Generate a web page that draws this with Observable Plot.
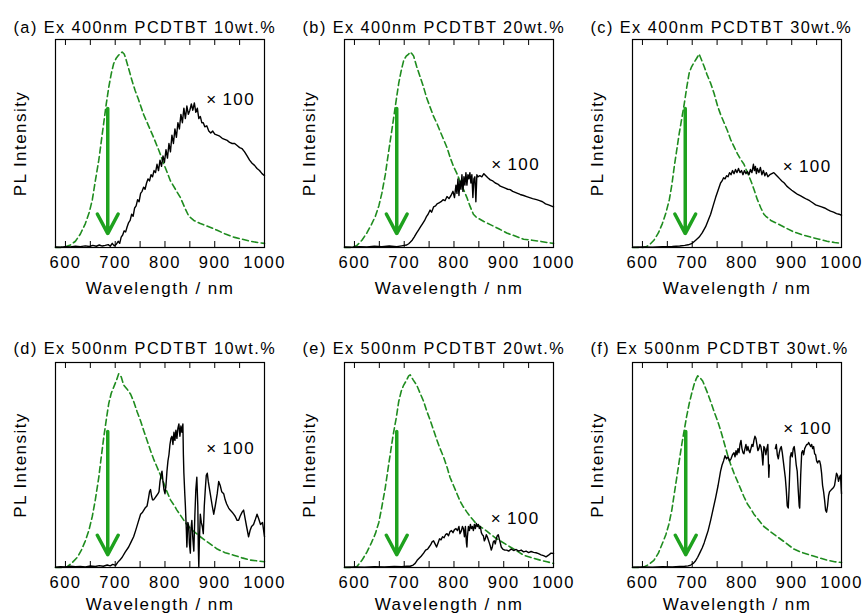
<!DOCTYPE html>
<html>
<head>
<meta charset="utf-8">
<script src="https://cdn.jsdelivr.net/npm/d3@7"></script>
<script src="https://cdn.jsdelivr.net/npm/@observablehq/plot@0.6"></script>
<style>
  html, body { margin: 0; padding: 0; background: #fff; }
  #wrap { position: relative; width: 867px; height: 616px; overflow: hidden; background: #fff; }
  .panel { position: absolute; }
  .panel svg { overflow: visible; }
  .panel svg text { letter-spacing: 1.45px; }
</style>
</head>
<body>
<div id="wrap"></div>
<script>
// ---------- DATA ----------
const panelTitles = [
  "(a) Ex 400nm PCDTBT 10wt.%",
  "(b) Ex 400nm PCDTBT 20wt.%",
  "(c) Ex 400nm PCDTBT 30wt.%",
  "(d) Ex 500nm PCDTBT 10wt.%",
  "(e) Ex 500nm PCDTBT 20wt.%",
  "(f) Ex 500nm PCDTBT 30wt.%"
];
const xDomain = [580, 1000];
const labelTicks = [600, 700, 800, 900, 1000];
const minorTicks = [600, 650, 700, 750, 800, 850, 900, 950];
const xLabel = "Wavelength / nm";
const yLabel = "PL Intensity";
const scaleText = "×\u2009100";
// "×100" annotation positions (wavelength, normalized intensity) for a..f
const scaleTextWl = [932, 924, 931, 932, 923, 932];
const scaleTextPL = [0.71, 0.40, 0.39, 0.58, 0.24, 0.68];
// green arrow (wavelength, top, tip)
const arrowWl = [685, 685, 686, 685, 685, 687];
const arrowTop = [0.668, 0.668, 0.668, 0.663, 0.663, 0.663];
const arrowTip = [0.067, 0.067, 0.067, 0.062, 0.062, 0.062];

// (a) green dashed reference spectrum
const wlGreenA = [580,590,600,610,620,630,640,648,654,660,667,672,677,682,687,692,697,702,707,714,718,721,727,734,740,747,757,767,777,788,798,811,821,831,840,848,858,871,888,905,920,938,955,972,986,1000];
const plGreenA = [0,0,0.004,0.012,0.03,0.065,0.115,0.17,0.23,0.32,0.42,0.51,0.6,0.69,0.77,0.835,0.885,0.91,0.925,0.94,0.93,0.91,0.86,0.8,0.755,0.71,0.64,0.585,0.53,0.465,0.4,0.32,0.28,0.24,0.19,0.15,0.13,0.115,0.1,0.083,0.066,0.05,0.04,0.03,0.024,0.02];
// (a) black x100 spectrum
const wlBlackA = [580,590,600,610,620,630,640,648,655,662,668,674,680,686,690,694,698,702,706,709,712,715,718,721,724,727,730,733,736,739,742,745,748,751,754,757,760,763,766,769,772,775,778,781,784,787,790,793,796,799,802,805,808,811,814,817,820,823,826,829,832,835,838,841,844,847,850,853,856,859,862,865,868,871,874,877,880,884,888,892,896,900,905,910,915,920,925,930,935,940,945,950,955,960,965,970,975,980,985,990,995,1000];
const plBlackA = [0.003,0.002,0.004,0.003,0.006,0.004,0.008,0.005,0.01,0.006,0.012,0.007,0.01,0.014,0.006,0.02,0.008,0.015,0.03,0.02,0.05,0.06,0.08,0.075,0.1,0.12,0.13,0.16,0.15,0.19,0.2,0.23,0.22,0.26,0.27,0.29,0.28,0.31,0.33,0.32,0.35,0.34,0.37,0.36,0.4,0.37,0.42,0.39,0.44,0.41,0.47,0.43,0.5,0.46,0.54,0.5,0.57,0.53,0.6,0.57,0.64,0.6,0.67,0.62,0.68,0.64,0.66,0.69,0.66,0.695,0.65,0.67,0.62,0.63,0.6,0.6,0.58,0.585,0.56,0.55,0.56,0.545,0.54,0.535,0.525,0.52,0.515,0.505,0.5,0.5,0.49,0.48,0.475,0.46,0.44,0.42,0.405,0.395,0.38,0.37,0.355,0.345];

// (b)
const wlGreenB = [580,595,605,615,625,634,642,649,655,662,668,673,678,684,689,694,699,704,709,712,716,719,725,732,739,745,752,759,766,772,779,786,792,799,806,812,819,826,832,839,845,849,860,873,890,906,923,940,957,973,987,1000];
const plGreenB = [0,0,0.01,0.035,0.07,0.11,0.15,0.2,0.26,0.35,0.45,0.53,0.61,0.71,0.79,0.85,0.9,0.92,0.93,0.94,0.93,0.92,0.87,0.82,0.77,0.72,0.675,0.63,0.595,0.56,0.52,0.48,0.435,0.39,0.355,0.32,0.28,0.24,0.2,0.16,0.145,0.14,0.125,0.11,0.09,0.07,0.055,0.04,0.035,0.03,0.024,0.02];
const wlBlackB = [580,595,610,625,640,655,670,685,695,700,705,709,712,716,720,725,729,733,737,741,745,748,752,755,759,763,766,770,774,778,782,786,790,794,798,801,804,806,808,810,812,814,816,818,820,822,824,826,828,830,832,834,836,838,840,842,844,846,848,852,856,860,864,868,873,878,883,888,893,898,903,908,913,918,923,928,933,940,946,952,958,966,972,978,984,990,995,1000];
const plBlackB = [0.003,0.002,0.004,0.003,0.006,0.004,0.007,0.004,0.008,0.01,0.012,0.018,0.025,0.035,0.05,0.07,0.085,0.1,0.115,0.13,0.15,0.16,0.18,0.17,0.195,0.2,0.21,0.215,0.22,0.23,0.225,0.245,0.235,0.25,0.27,0.24,0.3,0.26,0.33,0.25,0.32,0.28,0.35,0.27,0.34,0.3,0.36,0.3,0.35,0.33,0.36,0.31,0.35,0.24,0.33,0.34,0.22,0.35,0.34,0.345,0.34,0.355,0.345,0.335,0.325,0.32,0.31,0.305,0.295,0.29,0.285,0.28,0.278,0.27,0.265,0.26,0.255,0.25,0.245,0.24,0.235,0.23,0.225,0.22,0.21,0.205,0.2,0.195];

// (c)
const wlGreenC = [580,600,607,615,623,632,640,647,654,659,664,669,674,679,684,689,694,699,704,709,714,719,724,730,737,744,751,757,764,771,777,784,791,797,804,811,818,824,831,838,844,848,858,871,887,904,920,938,955,971,986,1000];
const plGreenC = [0,0,0.003,0.015,0.035,0.07,0.115,0.165,0.23,0.3,0.39,0.47,0.55,0.62,0.69,0.77,0.84,0.87,0.89,0.91,0.93,0.9,0.87,0.83,0.79,0.74,0.68,0.64,0.6,0.56,0.52,0.485,0.45,0.425,0.4,0.36,0.32,0.28,0.23,0.19,0.16,0.15,0.13,0.115,0.095,0.075,0.062,0.05,0.04,0.03,0.024,0.02];
const wlBlackC = [580,600,620,640,660,675,685,692,700,707,714,720,727,732,737,742,747,752,757,760,763,766,769,772,775,778,781,784,787,790,793,796,799,802,805,808,811,814,817,820,823,825,827,829,831,834,837,840,843,846,849,852,856,860,864,868,872,876,880,885,890,895,900,906,912,918,924,930,936,942,948,954,960,966,972,978,984,990,995,1000];
const plBlackC = [0.002,0.003,0.002,0.004,0.005,0.007,0.01,0.013,0.02,0.035,0.05,0.07,0.1,0.13,0.16,0.2,0.24,0.275,0.31,0.32,0.335,0.33,0.345,0.34,0.36,0.35,0.37,0.355,0.375,0.36,0.38,0.36,0.37,0.35,0.37,0.355,0.365,0.35,0.375,0.36,0.4,0.37,0.39,0.355,0.38,0.36,0.385,0.35,0.37,0.345,0.36,0.34,0.35,0.355,0.36,0.35,0.34,0.33,0.32,0.31,0.295,0.285,0.275,0.265,0.255,0.248,0.24,0.232,0.225,0.215,0.205,0.2,0.195,0.19,0.182,0.175,0.17,0.163,0.16,0.155];

// (d)
const wlGreenD = [580,595,603,612,624,632,640,647,654,660,667,672,677,682,687,692,697,702,707,712,717,724,731,737,744,751,757,764,771,777,784,791,798,804,811,818,824,831,838,844,851,861,871,888,905,921,938,955,972,986,1000];
const plGreenD = [0,0,0.003,0.02,0.05,0.085,0.13,0.18,0.25,0.33,0.44,0.54,0.635,0.72,0.8,0.85,0.88,0.91,0.945,0.93,0.89,0.87,0.845,0.81,0.76,0.715,0.67,0.62,0.57,0.53,0.49,0.45,0.41,0.37,0.33,0.305,0.28,0.255,0.23,0.21,0.19,0.17,0.15,0.12,0.09,0.072,0.06,0.047,0.036,0.032,0.028];
const wlBlackD = [580,590,600,610,620,630,640,650,660,668,676,684,690,695,701,705,709,714,720,727,732,737,741,746,751,755,760,764,767,769,771,773,775,777,780,783,786,788,790,792,794,796,798,800,802,804,806,808,810,812,814,816,818,820,822,824,826,828,830,832,834,836,837,838,840,841,843,844,846,848,849,851,852,854,856,858,860,862,864,866,867,868,869,871,873,875,877,879,881,883,885,887,889,891,893,895,898,901,903,905,908,911,914,918,921,924,928,931,935,938,941,945,948,951,955,958,961,964,968,971,974,978,981,985,988,992,996,1000];
const plBlackD = [0.002,0.004,0.003,0.006,0.004,0.005,0.003,0.007,0.005,0.009,0.006,0.012,0.008,0.015,0.01,0.025,0.035,0.05,0.075,0.1,0.125,0.15,0.18,0.22,0.26,0.27,0.29,0.3,0.34,0.37,0.38,0.35,0.33,0.33,0.34,0.35,0.36,0.37,0.42,0.45,0.47,0.42,0.38,0.36,0.4,0.47,0.52,0.55,0.6,0.63,0.64,0.6,0.66,0.62,0.67,0.63,0.68,0.7,0.64,0.69,0.66,0.7,0.55,0.46,0.35,0.3,0.18,0.1,0.22,0.2,0.12,0.07,0.18,0.23,0.14,0.08,0.25,0.38,0.44,0.3,0.1,0,0.12,0.26,0.22,0.2,0.165,0.3,0.38,0.45,0.46,0.42,0.39,0.36,0.33,0.3,0.26,0.3,0.33,0.36,0.42,0.4,0.37,0.36,0.33,0.31,0.29,0.28,0.27,0.26,0.25,0.23,0.23,0.25,0.27,0.28,0.24,0.2,0.15,0.18,0.2,0.21,0.23,0.26,0.24,0.21,0.22,0.15];

// (e)
const wlGreenE = [580,597,605,615,625,634,642,649,655,662,668,673,678,684,689,694,699,705,709,712,718,725,732,739,745,752,759,766,772,779,786,792,799,806,812,819,826,832,839,846,852,859,866,872,883,893,903,913,927,940,956,973,987,1000];
const plGreenE = [0,0,0.005,0.035,0.075,0.12,0.165,0.22,0.295,0.39,0.49,0.57,0.65,0.73,0.81,0.86,0.89,0.915,0.935,0.94,0.915,0.89,0.85,0.81,0.765,0.72,0.67,0.62,0.58,0.54,0.49,0.44,0.4,0.36,0.325,0.295,0.27,0.25,0.23,0.21,0.2,0.19,0.177,0.165,0.145,0.13,0.115,0.1,0.08,0.06,0.048,0.036,0.028,0.02];
const wlBlackE = [580,600,620,640,660,680,695,705,712,718,722,726,730,734,739,743,747,750,753,756,759,762,765,768,771,774,777,780,783,786,789,792,795,798,801,804,807,810,812,815,817,819,821,823,825,826,827,829,831,833,835,837,839,841,843,845,847,849,851,853,855,857,859,861,863,865,867,869,871,873,875,877,879,881,883,885,887,889,891,893,895,898,902,906,910,915,920,925,930,935,940,945,950,955,960,965,970,975,980,985,990,995,1000];
const plBlackE = [0.002,0.003,0.002,0.004,0.003,0.005,0.004,0.006,0.006,0.012,0.02,0.035,0.045,0.055,0.07,0.085,0.09,0.1,0.11,0.125,0.13,0.115,0.1,0.12,0.14,0.135,0.15,0.145,0.16,0.165,0.155,0.175,0.18,0.17,0.185,0.19,0.18,0.2,0.165,0.18,0.2,0.19,0.15,0.2,0.12,0.1,0.15,0.2,0.18,0.21,0.19,0.2,0.18,0.21,0.19,0.215,0.2,0.21,0.19,0.2,0.17,0.16,0.155,0.13,0.14,0.16,0.15,0.135,0.12,0.105,0.085,0.1,0.125,0.13,0.115,0.14,0.155,0.16,0.14,0.12,0.1,0.09,0.085,0.085,0.08,0.09,0.083,0.088,0.08,0.085,0.076,0.08,0.073,0.078,0.074,0.072,0.068,0.062,0.058,0.052,0.06,0.07,0.068];

// (f)
const wlGreenF = [580,595,603,613,623,632,640,647,653,659,664,669,674,679,684,689,694,699,704,708,711,716,721,726,731,737,744,751,757,764,771,777,784,791,798,804,811,818,824,834,844,857,871,888,904,921,938,955,971,986,1000];
const plGreenF = [0,0,0.003,0.015,0.035,0.07,0.117,0.16,0.21,0.28,0.36,0.44,0.52,0.6,0.67,0.74,0.8,0.85,0.895,0.92,0.935,0.925,0.91,0.88,0.85,0.81,0.76,0.715,0.67,0.61,0.55,0.505,0.46,0.42,0.38,0.345,0.31,0.285,0.26,0.23,0.2,0.175,0.15,0.12,0.09,0.073,0.06,0.047,0.036,0.028,0.024];
const wlBlackF = [580,600,620,640,660,675,685,692,697,702,706,711,716,720,724,728,732,737,742,747,752,757,760,763,766,769,772,775,778,781,784,786,788,790,792,794,796,798,800,802,804,806,808,810,812,814,816,818,820,822,824,826,828,830,832,834,836,838,840,842,844,846,848,850,852,854,855,860,867,869,871,873,875,877,879,881,883,885,887,889,891,893,895,897,899,901,903,905,907,909,911,913,915,916,918,920,922,924,926,928,930,932,934,936,938,940,942,944,946,948,950,952,954,956,958,960,962,964,966,968,970,972,974,976,978,980,982,984,986,988,990,992,994,996,998,1000];
const plBlackF = [0.002,0.003,0.002,0.004,0.003,0.005,0.006,0.008,0.012,0.02,0.03,0.05,0.075,0.095,0.12,0.15,0.18,0.23,0.285,0.34,0.4,0.47,0.5,0.52,0.545,0.53,0.54,0.52,0.53,0.55,0.56,0.54,0.57,0.55,0.58,0.56,0.6,0.62,0.58,0.56,0.555,0.58,0.6,0.57,0.59,0.57,0.56,0.58,0.6,0.59,0.62,0.64,0.63,0.6,0.57,0.58,0.6,0.59,0.56,0.5,0.59,0.58,0.55,0.58,0.6,0.44,0.5,null,0.58,0.6,0.55,0.53,0.56,0.58,0.59,0.56,0.52,0.48,0.44,0.38,0.3,0.29,0.4,0.54,0.56,0.54,0.58,0.59,0.55,0.5,0.47,0.38,0.3,0.29,0.45,0.56,0.57,0.55,0.58,0.59,0.6,0.6,0.61,0.6,0.59,0.6,0.58,0.59,0.555,0.55,0.52,0.51,0.52,0.52,0.5,0.46,0.4,0.37,0.33,0.28,0.27,0.3,0.35,0.37,0.375,0.38,0.385,0.39,0.4,0.43,0.46,0.45,0.42,0.44,0.45,0.36];

// ---------- STYLE / LAYOUT ----------
const FONT = "'Liberation Sans', Arial, Helvetica, sans-serif";
const GREEN_DASH = "#1f8c1f";
const GREEN_ARROW = "#1ea21e";
const zip = (xs, ys) => xs.map((x, i) => ({x, y: ys[i]}));

const panels = [
  {g: zip(wlGreenA, plGreenA), b: zip(wlBlackA, plBlackA)},
  {g: zip(wlGreenB, plGreenB), b: zip(wlBlackB, plBlackB)},
  {g: zip(wlGreenC, plGreenC), b: zip(wlBlackC, plBlackC)},
  {g: zip(wlGreenD, plGreenD), b: zip(wlBlackD, plBlackD)},
  {g: zip(wlGreenE, plGreenE), b: zip(wlBlackE, plBlackE)},
  {g: zip(wlGreenF, plGreenF), b: zip(wlBlackF, plBlackF)}
];

const colLeft = [0, 289, 577];
const rowTop = [0, 320];
const rowMarginTop = [39, 42];
const rowHeight = [320, 296];
const rowXLabelDy = [41, 37];
const frameBottomInPanel = 247;
const W = 290, ML = 55, FW = 209;

const wrap = document.getElementById("wrap");

panels.forEach((p, i) => {
  const r = Math.floor(i / 3), c = i % 3;
  const H = rowHeight[r], MT = rowMarginTop[r];
  const MB = H - frameBottomInPanel;
  const FH = frameBottomInPanel - MT;
  const tickLen = 6;
  const svg = Plot.plot({
    width: W,
    height: H,
    marginLeft: ML,
    marginRight: W - ML - FW,
    marginTop: MT,
    marginBottom: MB,
    style: {background: "transparent", fontFamily: FONT, fontSize: "16.5px", color: "black", overflow: "visible"},
    x: {domain: xDomain, label: null},
    y: {domain: [0, 1], axis: null},
    marks: [
      Plot.line(p.g, {x: "x", y: "y", stroke: GREEN_DASH, strokeWidth: 1.6, strokeDasharray: "6,3.5"}),
      Plot.line(p.b, {x: "x", y: "y", stroke: "black", strokeWidth: 1.4}),
      Plot.arrow([0], {
        x1: () => arrowWl[i], x2: () => arrowWl[i],
        y1: () => arrowTop[i], y2: () => arrowTip[i],
        stroke: GREEN_ARROW, strokeWidth: 3.5, headLength: 9.5, headAngle: 56
      }),
      Plot.text([scaleText], {
        text: d => d, x: () => scaleTextWl[i], y: () => scaleTextPL[i],
        textAnchor: "middle", lineAnchor: "middle", fontSize: 17, fill: "black"
      }),
      Plot.ruleX(minorTicks, {x: d => d, insetTop: FH - tickLen, stroke: "black", strokeWidth: 1}),
      Plot.ruleX(minorTicks, {x: d => d, insetBottom: FH - tickLen, stroke: "black", strokeWidth: 1}),
      Plot.frame({stroke: "black", strokeWidth: 1.2}),
      Plot.axisX({ticks: labelTicks, tickSize: 0, tickPadding: 9, label: null, tickFormat: d => String(d), fontSize: 16.5}),
      Plot.text([panelTitles[i]], {
        text: d => d, frameAnchor: "top-left", dx: -42, dy: r === 0 ? -11.5 : -14,
        textAnchor: "start", lineAnchor: "middle", fontSize: 16.3, fill: "black"
      }),
      Plot.text([yLabel], {
        text: d => d, frameAnchor: "left", dx: -35, rotate: -90,
        textAnchor: "middle", lineAnchor: "middle", fontSize: 17, fill: "black"
      }),
      Plot.text([xLabel], {
        text: d => d, frameAnchor: "bottom", dy: rowXLabelDy[r],
        textAnchor: "middle", lineAnchor: "middle", fontSize: 17, fill: "black"
      })
    ]
  });
  const div = document.createElement("div");
  div.className = "panel";
  div.style.left = colLeft[c] + "px";
  div.style.top = rowTop[r] + "px";
  div.appendChild(svg);
  wrap.appendChild(div);
});
</script>
</body>
</html>
